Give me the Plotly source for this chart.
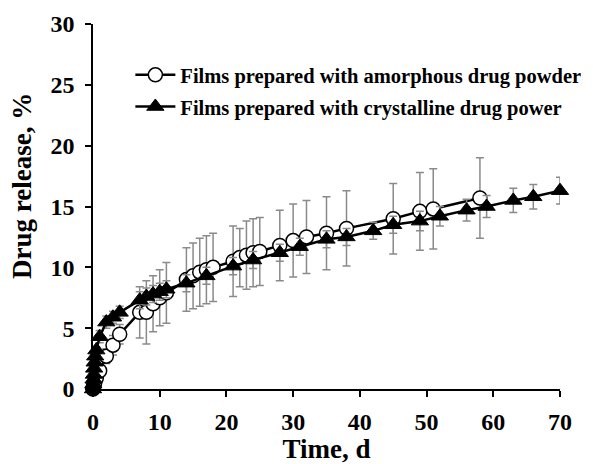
import plotly.graph_objects as go

# Amorphous drug powder films (open circles)
amorph_t = [0, 0.04, 0.08, 0.17, 0.25, 0.5, 1, 2, 3, 4, 7, 8, 9, 10, 11, 14, 15, 16, 17, 18,
            21, 22, 23, 24, 25, 28, 30, 32, 35, 38, 45, 49, 51, 58]
amorph_y = [0, 0.1, 0.2, 0.35, 0.5, 0.9, 1.5, 2.7, 3.6, 4.5, 6.3, 6.3, 7.0, 7.5, 7.9, 9.0, 9.3, 9.6, 9.8, 10.0,
            10.5, 10.8, 11.0, 11.2, 11.3, 11.8, 12.2, 12.5, 12.8, 13.2, 14.0, 14.6, 14.8, 15.7]
amorph_err = [0, 0, 0, 0, 0.1, 0.2, 0.3, 0.6, 0.8, 0.8, 2.1, 2.6, 2.3, 2.3, 2.5, 2.6, 2.7, 2.8, 2.8, 2.8,
              2.9, 2.4, 2.8, 2.8, 2.8, 2.9, 3.0, 3.0, 3.0, 3.1, 2.9, 3.2, 3.3, 3.3]

# Crystalline drug powder films (filled triangles)
cryst_t = [0, 0.04, 0.08, 0.13, 0.17, 0.25, 0.33, 0.5, 1, 2, 3, 4, 7, 8, 9, 10, 11, 14, 17,
           21, 24, 28, 31, 35, 38, 42, 45, 49, 52, 56, 59, 63, 66, 70]
cryst_y = [0, 0.4, 0.8, 1.2, 1.7, 2.2, 2.7, 3.2, 4.3, 5.5, 5.9, 6.3, 7.3, 7.6, 7.8, 8.0, 8.2, 8.7, 9.3,
           10.1, 10.6, 11.2, 11.7, 12.3, 12.5, 13.0, 13.5, 13.8, 14.2, 14.7, 15.0, 15.5, 15.8, 16.3]
cryst_err = [0, 0.1, 0.1, 0.2, 0.2, 0.2, 0.3, 0.3, 0.5, 0.5, 0.5, 0.5, 0.7, 0.7, 0.7, 0.7, 0.7, 0.7, 0.7,
             0.7, 0.7, 0.7, 0.7, 0.7, 0.7, 0.7, 0.7, 0.8, 0.8, 0.9, 0.9, 1.0, 1.0, 1.1]

names = ["Films prepared with amorphous drug powder", "Films prepared with crystalline drug power"]
x_ticks = [0, 10, 20, 30, 40, 50, 60, 70]
y_ticks = [0, 5, 10, 15, 20, 25, 30]

FONT = "Liberation Serif"
fig = go.Figure()
fig.add_trace(go.Scatter(
    x=amorph_t, y=amorph_y, name=names[0], mode="lines+markers", legendgroup="a",
    line=dict(color="black", width=2.5),
    marker=dict(symbol="circle", size=14, color="white", line=dict(color="black", width=1.5)),
    error_y=dict(type="data", array=amorph_err, color="#8a8a8a", thickness=1.5, width=4),
))
fig.add_trace(go.Scatter(
    x=cryst_t, y=cryst_y, name=names[1], mode="lines+markers", legendgroup="c",
    line=dict(color="black", width=2.5),
    marker=dict(symbol="triangle-up", size=15, color="black", line=dict(color="black", width=1)),
    error_y=dict(type="data", array=cryst_err, color="#8a8a8a", thickness=1.5, width=4),
))

axis_common = dict(showline=True, linecolor="black", linewidth=1.5, ticks="outside", ticklen=6,
                   tickwidth=1.5, tickcolor="black", showgrid=False, zeroline=False, automargin=False,
                   tickfont=dict(family=FONT, size=24, weight="bold", color="black"))

# page is offset by the 8px body margin; plot area targets page x 93..560, y 24..389
fig.update_layout(
    width=585, height=456,
    margin=dict(l=85, r=33, t=16, b=75, autoexpand=False),
    plot_bgcolor="white", paper_bgcolor="white",
    font=dict(family=FONT, color="black"),
    showlegend=True,
    legend=dict(x=0.08, y=0.915, xanchor="left", yanchor="top",
                font=dict(family=FONT, size=20.5, color="black", weight="bold"),
                bgcolor="rgba(0,0,0,0)", itemwidth=40, tracegroupgap=2),
    xaxis=dict(range=[0, 70], tickvals=x_ticks, ticklabelstandoff=4, **axis_common,
               title=dict(text="Time, d", font=dict(family=FONT, size=27, weight="bold"), standoff=6)),
    yaxis=dict(range=[0, 30], tickvals=y_ticks, ticklabelstandoff=6, **axis_common),
    annotations=[dict(text="Drug release, %", textangle=-90, xref="paper", yref="paper",
                      x=(22 - 93) / 467, y=(389 - 186) / 365, xanchor="center", yanchor="middle",
                      showarrow=False, font=dict(family=FONT, size=27, weight="bold", color="black"))],
)
fig.update_traces(cliponaxis=False)
fig.write_html("out.html")
